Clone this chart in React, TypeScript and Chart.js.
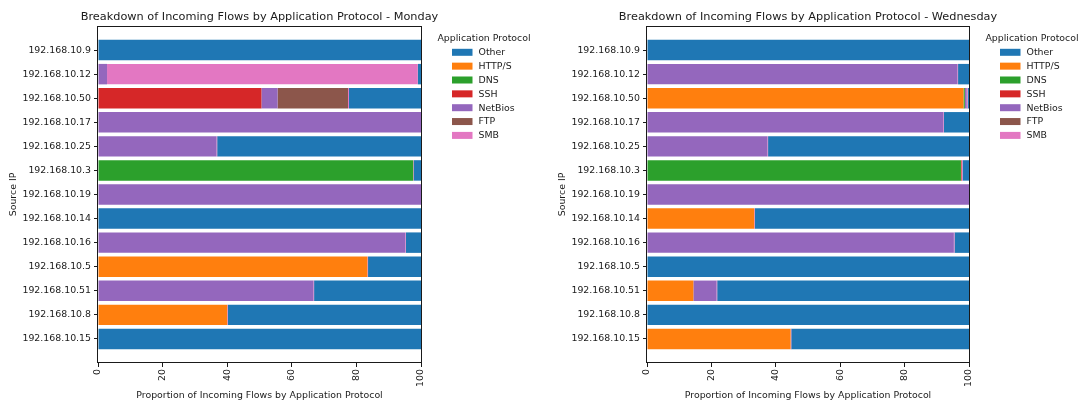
import { useEffect, useRef } from 'react';
import { Chart, registerables } from 'chart.js';

Chart.register(...registerables);

// Source hosts, listed top to bottom
const sourceIps = [
  '192.168.10.9',
  '192.168.10.12',
  '192.168.10.50',
  '192.168.10.17',
  '192.168.10.25',
  '192.168.10.3',
  '192.168.10.19',
  '192.168.10.14',
  '192.168.10.16',
  '192.168.10.5',
  '192.168.10.51',
  '192.168.10.8',
  '192.168.10.15',
];

// Segments are stacked left to right in this order
const stackOrder = ['HTTP/S', 'DNS', 'SSH', 'NetBios', 'FTP', 'SMB', 'Other'];
// Legend lists the protocols in this order
const legendOrder = ['Other', 'HTTP/S', 'DNS', 'SSH', 'NetBios', 'FTP', 'SMB'];

const protocolColors: Record<string, string> = {
  Other: '#1f77b4',
  'HTTP/S': '#ff7f0e',
  DNS: '#2ca02c',
  SSH: '#d62728',
  NetBios: '#9467bd',
  FTP: '#8c564b',
  SMB: '#e377c2',
};

const xTickValues = [0, 20, 40, 60, 80, 100];

// Monday: share of incoming flows (%) per protocol, one value per source IP
const mondayHttps = [0, 0, 0, 0, 0, 0, 0, 0, 0, 83.4, 0, 40.0, 0];
const mondayDns = [0, 0, 0, 0, 0, 97.6, 0, 0, 0, 0, 0, 0, 0];
const mondaySsh = [0, 0, 50.6, 0, 0, 0, 0, 0, 0, 0, 0, 0, 0];
const mondayNetbios = [0, 2.8, 5.0, 100, 36.7, 0, 100, 0, 95.1, 0, 66.7, 0, 0];
const mondayFtp = [0, 0, 21.8, 0, 0, 0, 0, 0, 0, 0, 0, 0, 0];
const mondaySmb = [0, 96.2, 0.3, 0, 0.2, 0.2, 0, 0, 0.2, 0.2, 0.2, 0.2, 0];
const mondayOther = [100, 1.0, 22.3, 0, 63.1, 2.2, 0, 100, 4.7, 16.4, 33.1, 59.8, 100];

// Wednesday: share of incoming flows (%) per protocol, one value per source IP
const wednesdayHttps = [0, 0, 98.3, 0, 0, 0, 0, 33.3, 0, 0, 14.4, 0, 44.6];
const wednesdayDns = [0, 0, 0.4, 0, 0, 97.5, 0, 0, 0, 0, 0, 0, 0];
const wednesdaySsh = [0, 0, 0, 0, 0, 0.2, 0, 0, 0, 0, 0, 0, 0];
const wednesdayNetbios = [0, 96.4, 0.6, 92.0, 37.4, 0, 100, 0, 95.3, 0, 7.2, 0, 0];
const wednesdayFtp = [0, 0, 0, 0, 0, 0, 0, 0, 0, 0, 0, 0, 0];
const wednesdaySmb = [0, 0.2, 0.3, 0.2, 0.2, 0.3, 0, 0.2, 0.2, 0, 0.2, 0, 0.2];
const wednesdayOther = [100, 3.4, 0.4, 7.8, 62.4, 2.0, 0, 66.5, 4.5, 100, 78.2, 100, 55.2];

const mondaySeries: Record<string, number[]> = {
  'HTTP/S': mondayHttps,
  DNS: mondayDns,
  SSH: mondaySsh,
  NetBios: mondayNetbios,
  FTP: mondayFtp,
  SMB: mondaySmb,
  Other: mondayOther,
};

const wednesdaySeries: Record<string, number[]> = {
  'HTTP/S': wednesdayHttps,
  DNS: wednesdayDns,
  SSH: wednesdaySsh,
  NetBios: wednesdayNetbios,
  FTP: wednesdayFtp,
  SMB: wednesdaySmb,
  Other: wednesdayOther,
};

const FONT = "'DejaVu Sans', 'Liberation Sans', sans-serif";
const SMALL = 9.4;
const TITLE_SIZE = 11.3;
const INK = '#1a1a1a';
const CANVAS_W = 543;
const CANVAS_H = 404;

// Draws the axes frame, the panel title and a protocol legend beside the plot area
const frameAndLegend = {
  id: 'frameAndLegend',
  afterDatasetsDraw(chart: any) {
    const { ctx, chartArea } = chart;
    const { left, right, top, bottom } = chartArea;
    ctx.save();
    ctx.strokeStyle = INK;
    ctx.lineWidth = 1;
    ctx.strokeRect(Math.round(left) - 0.5, Math.round(top) + 0.5, Math.round(right - left) + 1, Math.round(bottom - top) - 1);
    ctx.restore();
  },
  afterDraw(chart: any, _args: any, opts: any) {
    const { ctx, chartArea } = chart;
    const x0 = chartArea.right;
    ctx.save();
    // panel title, centred over the plot area
    ctx.font = `${TITLE_SIZE}px ${FONT}`;
    ctx.fillStyle = INK;
    ctx.textAlign = 'center';
    ctx.textBaseline = 'alphabetic';
    ctx.fillText(opts.title, (chartArea.left + chartArea.right) / 2, 20);

    // legend
    ctx.font = `${SMALL}px ${FONT}`;
    ctx.textBaseline = 'middle';
    ctx.textAlign = 'center';
    ctx.fillText('Application Protocol', x0 + 63, 39);
    ctx.textAlign = 'left';
    legendOrder.forEach((name, i) => {
      const cy = 52.3 + i * 13.85;
      ctx.fillStyle = protocolColors[name];
      ctx.fillRect(x0 + 31, cy - 3.5, 20.5, 7);
      ctx.fillStyle = INK;
      ctx.fillText(name, x0 + 57.5, cy + 0.5);
    });
    ctx.restore();
  },
};

type PanelProps = {
  day: string;
  series: Record<string, number[]>;
  yAxisWidth: number;
  yTitlePad: number;
  rightPad: number;
};

function Panel({ day, series, yAxisWidth, yTitlePad, rightPad }: PanelProps) {
  const canvasRef = useRef<HTMLCanvasElement | null>(null);

  useEffect(() => {
    if (!canvasRef.current) return;
    const datasets = stackOrder.map((name) => ({
      label: name,
      data: series[name].map((v, i) => ({ x: v, y: i })),
      backgroundColor: protocolColors[name],
      borderWidth: 0,
      barPercentage: 0.85,
      categoryPercentage: 1,
    }));

    const chart = new Chart(canvasRef.current, {
      type: 'bar',
      data: { datasets },
      plugins: [frameAndLegend],
      options: {
        indexAxis: 'y',
        responsive: false,
        animation: false,
        layout: { padding: { left: 0, right: rightPad, top: 26, bottom: 0 } },
        plugins: {
          legend: { display: false },
          tooltip: { enabled: false },
          title: { display: false },
          frameAndLegend: {
            title: `Breakdown of Incoming Flows by Application Protocol - ${day}`,
          },
        },
        scales: {
          x: {
            type: 'linear',
            stacked: true,
            min: 0,
            max: 100,
            offset: false,
            border: { display: false },
            grid: {
              display: true,
              offset: false,
              drawOnChartArea: false,
              drawTicks: true,
              tickLength: 4,
              tickColor: INK,
            },
            afterBuildTicks: (scale: any) => {
              scale.ticks = xTickValues.map((value) => ({ value }));
            },
            ticks: {
              autoSkip: false,
              minRotation: 90,
              maxRotation: 90,
              padding: 2,
              color: INK,
              font: { family: FONT, size: SMALL },
            },
            title: {
              display: true,
              text: 'Proportion of Incoming Flows by Application Protocol',
              color: INK,
              font: { family: FONT, size: SMALL },
              padding: { top: 0, bottom: 3.2 },
            },
            afterFit: (scale: any) => {
              scale.height = 41;
            },
          },
          y: {
            type: 'linear',
            stacked: true,
            reverse: true,
            min: -1,
            max: sourceIps.length,
            offset: false,
            border: { display: false },
            grid: {
              display: true,
              offset: false,
              drawOnChartArea: false,
              drawTicks: true,
              tickLength: 4,
              tickColor: INK,
            },
            afterBuildTicks: (scale: any) => {
              scale.ticks = sourceIps.map((_, i) => ({ value: i }));
            },
            ticks: {
              autoSkip: false,
              padding: 3,
              color: INK,
              font: { family: FONT, size: SMALL },
              callback: (value: any) => sourceIps[value as number] ?? '',
            },
            title: {
              display: true,
              text: 'Source IP',
              color: INK,
              font: { family: FONT, size: SMALL },
              padding: { top: yTitlePad, bottom: 0 },
            },
            afterFit: (scale: any) => {
              scale.width = yAxisWidth;
            },
          },
        },
      } as any,
    });

    return () => chart.destroy();
  }, [day, series, yAxisWidth, yTitlePad, rightPad]);

  return (
    <div style={{ width: CANVAS_W, height: CANVAS_H }}>
      <canvas ref={canvasRef} width={CANVAS_W} height={CANVAS_H} style={{ display: 'block' }} />
    </div>
  );
}

export default function App() {
  return (
    <div
      style={{
        position: 'absolute',
        left: 0,
        top: 0,
        width: CANVAS_W * 2,
        height: CANVAS_H,
        display: 'flex',
        background: '#ffffff',
      }}
    >
      <Panel day="Monday" series={mondaySeries} yAxisWidth={98} yTitlePad={7.6} rightPad={122} />
      <Panel day="Wednesday" series={wednesdaySeries} yAxisWidth={104} yTitlePad={14} rightPad={117} />
    </div>
  );
}
